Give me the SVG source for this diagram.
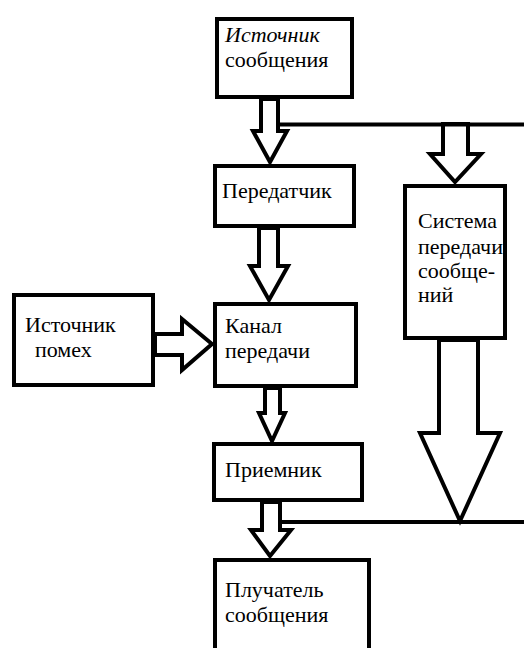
<svg xmlns="http://www.w3.org/2000/svg" width="524" height="648" viewBox="0 0 524 648">
<style>
.box{fill:#fff;stroke:#000;stroke-width:4}
.arr{fill:#fff;stroke:#000;stroke-width:4;stroke-linejoin:miter}
.ln{stroke:#000;stroke-width:4;fill:none}
text{font-family:"Liberation Serif","Times New Roman",serif;font-size:22px;fill:#000}
.it{font-style:italic}
</style>
<rect width="524" height="648" fill="#fff"/>
<g id="connectors">
<polygon class="arr" points="261,99 278,99 278,131 287,131 270,162 253,131 261,131"/>
<polygon class="arr" points="443,124 468,124 468,154 481,154 455,182 430,154 443,154"/>
<line class="ln" x1="278" y1="124.5" x2="524" y2="124.5"/>
<polygon class="arr" points="259,228 278,228 278,266 288,266 269,300 250,266 259,266"/>
<polygon class="arr" points="155,334 182,334 182,319 212,344 182,370 182,355 155,355"/>
<polygon class="arr" points="265,388 280,388 280,413 285,413 272,441 259,413 265,413"/>
<polygon class="arr" points="439,340 478,340 478,433 500,433 460,521 420,433 439,433"/>
<line class="ln" x1="280" y1="522" x2="524" y2="522"/>
<polygon class="arr" points="262,502 280,502 280,530 291,530 270,556 251,530 262,530"/>
</g>
<g id="source">
<rect class="box" x="217" y="19" width="135" height="78"/>
<text x="225" y="42" class="it">Источник</text>
<text x="225" y="67">сообщения</text>
</g>
<g id="transmitter">
<rect class="box" x="215" y="166" width="139" height="60"/>
<text x="222" y="198">Передатчик</text>
</g>
<g id="system">
<rect class="box" x="405" y="186" width="100" height="152"/>
<text x="418" y="228">Система</text>
<text x="418" y="254">передачи</text>
<text x="418" y="278">сообще-</text>
<text x="418" y="302">ний</text>
</g>
<g id="noise">
<rect class="box" x="14" y="295" width="139" height="90"/>
<text x="25" y="332">Источник</text>
<text x="35" y="357">помех</text>
</g>
<g id="channel">
<rect class="box" x="215" y="304" width="141" height="82"/>
<text x="225" y="333">Канал</text>
<text x="225" y="358">передачи</text>
</g>
<g id="receiver">
<rect class="box" x="214" y="444" width="148" height="56"/>
<text x="225" y="477">Приемник</text>
</g>
<g id="recipient">
<rect class="box" x="215" y="560" width="154" height="100"/>
<text x="225" y="597">Плучатель</text>
<text x="225" y="622">сообщения</text>
</g>
</svg>
